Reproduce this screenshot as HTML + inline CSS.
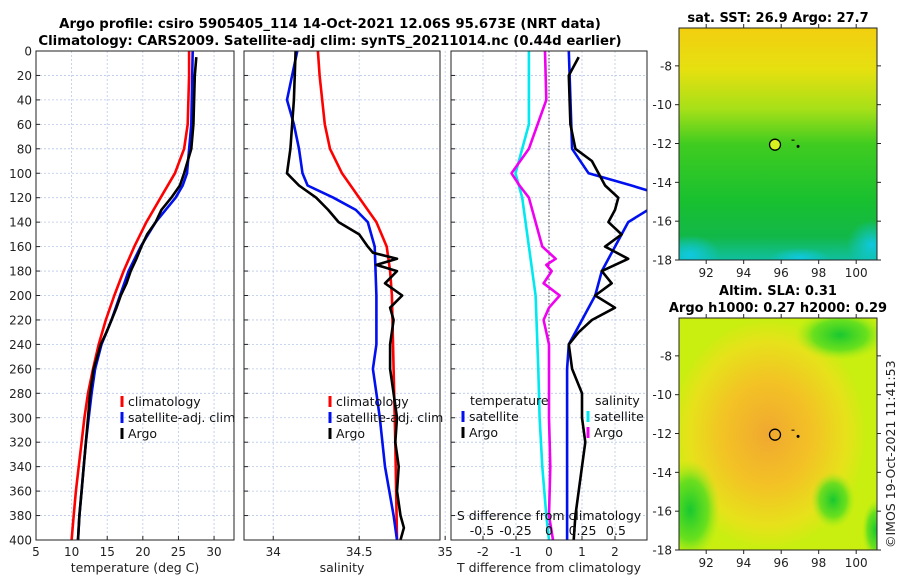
<!DOCTYPE html>
<html><head><meta charset="utf-8">
<style>
html,body{margin:0;padding:0;background:#fff;}
svg{display:block;font-family:"DejaVu Sans","Liberation Sans",sans-serif;}
</style></head>
<body>
<svg id="fig" width="900" height="580" viewBox="0 0 900 580">
<defs>
<linearGradient id="sstg" x1="0" y1="0" x2="0" y2="1">
<stop offset="0" stop-color="#f2cf10"/><stop offset="0.18" stop-color="#e6e010"/>
<stop offset="0.35" stop-color="#a6e018"/><stop offset="0.5" stop-color="#40cc20"/>
<stop offset="0.75" stop-color="#18c030"/><stop offset="0.9" stop-color="#12b848"/>
<stop offset="1" stop-color="#10c0a0"/></linearGradient>
<radialGradient id="slag" cx="0.45" cy="0.5" r="0.5">
<stop offset="0" stop-color="#f0a830"/><stop offset="0.45" stop-color="#f3c225"/>
<stop offset="0.8" stop-color="#e6e21a"/><stop offset="1" stop-color="#c8ef10"/></radialGradient>
<radialGradient id="grn" cx="0.5" cy="0.5" r="0.5">
<stop offset="0" stop-color="#18c830"/><stop offset="0.6" stop-color="#50dc20" stop-opacity="0.8"/><stop offset="1" stop-color="#a0e818" stop-opacity="0"/></radialGradient>
<radialGradient id="cyn" cx="0.5" cy="0.5" r="0.5">
<stop offset="0" stop-color="#10c8e0"/><stop offset="1" stop-color="#10c8e0" stop-opacity="0"/></radialGradient>
<clipPath id="clipm1"><rect x="679" y="28" width="198" height="232"/></clipPath>
<clipPath id="clipm2"><rect x="679" y="318" width="198" height="232"/></clipPath>
</defs>
<text x="330" y="28" text-anchor="middle" font-size="13.3" font-weight="bold">Argo profile: csiro 5905405_114 14-Oct-2021 12.06S 95.673E (NRT data)</text>
<text x="330" y="45" text-anchor="middle" font-size="13.3" font-weight="bold">Climatology: CARS2009. Satellite-adj clim: synTS_20211014.nc (0.44d earlier)</text>
<g id="p1"></g>
<g id="p2"></g>
<g id="p3"></g>
<g id="m1">
<g clip-path="url(#clipm1)">
<rect x="679" y="28" width="198" height="232" fill="url(#sstg)"/>
<ellipse cx="690" cy="255" rx="30" ry="20" fill="url(#cyn)"/>
<ellipse cx="800" cy="258" rx="30" ry="10" fill="url(#cyn)"/>
<ellipse cx="872" cy="245" rx="25" ry="25" fill="url(#cyn)"/>
</g></g>
<g id="m2">
<g clip-path="url(#clipm2)">
<rect x="679" y="318" width="198" height="232" fill="url(#slag)"/>
<ellipse cx="690" cy="510" rx="30" ry="50" fill="url(#grn)"/>
<ellipse cx="840" cy="335" rx="45" ry="25" fill="url(#grn)"/>
<ellipse cx="833" cy="500" rx="22" ry="28" fill="url(#grn)"/>
<ellipse cx="876" cy="530" rx="14" ry="30" fill="url(#grn)"/>
</g></g>
<text x="778" y="22" text-anchor="middle" font-size="13" font-weight="bold">sat. SST: 26.9 Argo: 27.7</text>
<text x="778" y="295" text-anchor="middle" font-size="13" font-weight="bold">Altim. SLA: 0.31</text>
<text x="778" y="312" text-anchor="middle" font-size="13" font-weight="bold">Argo h1000: 0.27 h2000: 0.29</text>
<text transform="translate(895,548) rotate(-90)" font-size="12.5" fill="#222">©IMOS 19-Oct-2021 11:41:53</text>
</svg>
<script>
// ---- data ----
const tClimDepth=[0,20,60,80,100,120,140,160,180,200,220,240,260,280,300,320,340,360,380,400];
const tClimVal=[26.5,26.5,26.3,25.8,24.5,22.5,20.5,18.8,17.3,16,14.8,13.8,13,12.3,11.8,11.4,11,10.6,10.3,10];
const tSatDepth=[0,60,100,110,120,130,140,160,180,200,220,240,260,280,300,320,340,360,380,400];
const tSatVal=[27,26.8,26.2,25.6,24.6,23.2,21.8,19.7,18,16.8,15.6,14.2,13.3,12.8,12.4,12,11.7,11.4,11.1,10.9];
const tArgoDepth=[5,20,60,80,100,110,120,130,140,150,160,170,180,190,200,210,220,230,240,260,280,300,320,340,360,380,400];
const tArgoVal=[27.5,27.3,27.1,26.8,25.8,25.2,24,22.6,21.8,20.6,19.8,19.1,18.3,17.7,16.9,16.3,15.6,14.9,14.1,13.1,12.6,12.3,12,11.7,11.4,11.1,10.9];
const sClimDepth=[0,20,60,80,100,120,140,160,180,200,260,320,400];
const sClimVal=[34.26,34.27,34.3,34.33,34.4,34.5,34.6,34.66,34.68,34.69,34.7,34.71,34.72];
const sSatDepth=[0,20,40,60,80,100,110,120,130,140,160,200,240,260,280,300,340,380,400];
const sSatVal=[34.14,34.11,34.08,34.12,34.15,34.17,34.2,34.35,34.48,34.55,34.59,34.6,34.6,34.58,34.6,34.62,34.65,34.7,34.72];
const sArgoDepth=[0,40,80,100,110,120,130,140,150,160,165,170,175,180,190,200,210,220,240,260,280,300,320,340,360,380,390,400];
const sArgoVal=[34.13,34.12,34.1,34.08,34.15,34.25,34.32,34.38,34.5,34.55,34.58,34.72,34.6,34.72,34.65,34.75,34.68,34.7,34.68,34.68,34.7,34.72,34.71,34.73,34.72,34.74,34.76,34.74];
const dTSatDepth=[0,80,100,110,115,130,140,160,180,200,220,240,260,300,400];
const dTSatVal=[0.6,0.7,1.2,2.5,3.1,3.0,2.4,2.0,1.6,1.4,1.0,0.6,0.55,0.55,0.55];
const dTArgoDepth=[5,20,60,80,90,100,110,120,130,140,150,160,170,180,190,200,210,220,230,240,260,280,300,320,340,360,380,400];
const dTArgoVal=[0.9,0.6,0.65,0.8,1.3,1.5,1.7,2.1,2.0,1.8,2.2,1.7,2.4,1.6,1.9,1.4,2.0,1.3,0.9,0.6,0.7,1.0,1.0,1.1,1.0,0.9,0.8,0.75];
const dSSatDepth=[0,60,100,120,160,200,260,300,340,380,400];
const dSSatVal=[-0.15,-0.15,-0.25,-0.2,-0.15,-0.1,-0.08,-0.07,-0.05,-0.02,0];
const dSArgoDepth=[0,40,80,100,110,120,140,160,170,175,180,190,200,210,220,240,260,300,340,380,400];
const dSArgoVal=[-0.03,-0.02,-0.15,-0.28,-0.22,-0.15,-0.1,-0.05,0.05,-0.02,0.02,-0.04,0.08,0.0,-0.04,0.0,0.0,0.0,0.01,0.0,0.03];
const depthTicks=[0,20,40,60,80,100,120,140,160,180,200,220,240,260,280,300,320,340,360,380,400];
const tTicks=[5,10,15,20,25,30];
const sTicks=[34,34.5,35];
const dTTicks=[-2,-1,0,1,2];
const dSTicks=[-0.5,-0.25,0,0.25,0.5];
const lonTicks=[92,94,96,98,100];
const latTicks=[-8,-10,-12,-14,-16,-18];

const NS='http://www.w3.org/2000/svg';
function mk(tag,attrs,parent,txt){const e=document.createElementNS(NS,tag);for(const k in attrs)e.setAttribute(k,attrs[k]);if(txt!==undefined)e.textContent=txt;parent.appendChild(e);return e;}
const Y0=51,Y1=540;
const yD=d=>Y0+(d/400)*(Y1-Y0);

function panel(g,x0,x1,xmin,xmax,ticks,showY,xlabel,fmt){
  const xs=v=>x0+(v-xmin)/(xmax-xmin)*(x1-x0);
  ticks.forEach(t=>{
    const gl=mk('line',{x1:xs(t),x2:xs(t),y1:Y0,y2:Y1,stroke:'#b8c8e8','stroke-width':0.8,'stroke-dasharray':'2,2'},g);
    
    const tl=mk('text',{x:xs(t),y:556,'text-anchor':'middle','font-size':12,fill:'#222'},g,fmt?fmt(t):String(t));
    
    mk('line',{x1:xs(t),x2:xs(t),y1:Y1,y2:Y1-4,stroke:'#222'},g);
  });
  depthTicks.forEach(d=>{
    const gl=mk('line',{x1:x0,x2:x1,y1:yD(d),y2:yD(d),stroke:'#b8c8e8','stroke-width':0.8,'stroke-dasharray':'2,2'},g);
    
    mk('line',{x1:x0,x2:x0+4,y1:yD(d),y2:yD(d),stroke:'#222'},g);
    if(showY){const tl=mk('text',{x:x0-4,y:yD(d)+4.5,'text-anchor':'end','font-size':12,fill:'#222'},g,String(d));
      }
  });
  if(xlabel){const xl=mk('text',{x:(x0+x1)/2,y:572,'text-anchor':'middle','font-size':12.5,fill:'#222'},g,xlabel);
    }
  return xs;
}
function frame(g,x0,x1){const f=mk('rect',{x:x0,y:Y0,width:x1-x0,height:Y1-Y0,fill:'none',stroke:'#222','stroke-width':1},g);
  }
function line(g,xs,depths,vals,color,name,x0,x1){
  const cid='c'+name;const cp=mk('clipPath',{id:cid},g);mk('rect',{x:x0,y:Y0,width:x1-x0,height:Y1-Y0},cp);
  const p=mk('polyline',{points:depths.map((d,i)=>xs(vals[i]).toFixed(1)+','+yD(d).toFixed(1)).join(' '),fill:'none',stroke:color,'stroke-width':2.6,'stroke-linejoin':'round','clip-path':'url(#'+cid+')'},g);
  
}
function legend(g,x,y,items){items.forEach((it,i)=>{
  const yy=y+i*16;mk('line',{x1:x,x2:x,y1:yy-10,y2:yy+1,stroke:it[1],'stroke-width':3},g);
  const t=mk('text',{x:x+6,y:yy,'font-size':12.5,fill:'#111'},g,it[0]);
  });}

// panel 1
const g1=document.getElementById('p1');
const xt=panel(g1,36,234,5,32.8,tTicks,true,'temperature (deg C)');
line(g1,xt,tClimDepth,tClimVal,'#f00','temp-climatology-line',36,234);
line(g1,xt,tSatDepth,tSatVal,'#0010ee','temp-satellite-line',36,234);
line(g1,xt,tArgoDepth,tArgoVal,'#000','temp-argo-line',36,234);
legend(g1,122,406,[['climatology','#f00'],['satellite-adj. clim','#0010ee'],['Argo','#000']]);
frame(g1,36,234);
// panel 2
const g2=document.getElementById('p2');
const xsl=panel(g2,244,440,33.83,34.97,sTicks,false,'salinity');
line(g2,xsl,sClimDepth,sClimVal,'#f00','sal-climatology-line',244,440);
line(g2,xsl,sSatDepth,sSatVal,'#0010ee','sal-satellite-line',244,440);
line(g2,xsl,sArgoDepth,sArgoVal,'#000','sal-argo-line',244,440);
legend(g2,330,406,[['climatology','#f00'],['satellite-adj. clim','#0010ee'],['Argo','#000']]);
frame(g2,244,440);
// panel 3
const g3=document.getElementById('p3');
const xd=panel(g3,451,647,-2.97,2.97,dTTicks,false,'T difference from climatology');
const xsd=v=>549+v*134;
const zl=mk('line',{x1:xd(0),x2:xd(0),y1:Y0,y2:Y1,stroke:'#444','stroke-width':1,'stroke-dasharray':'1.5,2'},g3);

line(g3,x=>xsd(x),dSSatDepth,dSSatVal,'#00e8f0','dsal-satellite-line',451,647);
line(g3,x=>xsd(x),dSArgoDepth,dSArgoVal,'#f000f0','dsal-argo-line',451,647);
line(g3,xd,dTSatDepth,dTSatVal,'#0010ee','dtemp-satellite-line',451,647);
line(g3,xd,dTArgoDepth,dTArgoVal,'#000','dtemp-argo-line',451,647);
let lt=mk('text',{x:470,y:405,'font-size':12.5,fill:'#111'},g3,'temperature');
lt=mk('text',{x:595,y:405,'font-size':12.5,fill:'#111'},g3,'salinity');
legend(g3,463,421,[['satellite','#0010ee'],['Argo','#000']]);
legend(g3,588,421,[['satellite','#00e8f0'],['Argo','#f000f0']]);
lt=mk('text',{x:549,y:520,'text-anchor':'middle','font-size':12.5,fill:'#111'},g3,'S difference from climatology');
dSTicks.forEach(t=>{const e=mk('text',{x:xsd(t),y:535,'text-anchor':'middle','font-size':12.5,fill:'#111'},g3,String(t));
  });
frame(g3,451,647);

// maps
function mapAxes(g,top,bot,latTop,latBot){
  const mx=lon=>679+(lon-90.55)*18.75;
  const my=lat=>top+(latTop-lat)/(latTop-latBot)*(bot-top);
  lonTicks.forEach(l=>{mk('line',{x1:mx(l),x2:mx(l),y1:bot,y2:bot+4,stroke:'#222'},g);mk('line',{x1:mx(l),x2:mx(l),y1:top,y2:top-4,stroke:'#222'},g);
    const t=mk('text',{x:mx(l),y:bot+17,'text-anchor':'middle','font-size':12,fill:'#222'},g,String(l));
    });
  latTicks.forEach(l=>{const y=my(l);mk('line',{x1:679,x2:675,y1:y,y2:y,stroke:'#222'},g);mk('line',{x1:877,x2:881,y1:y,y2:y,stroke:'#222'},g);
    const t=mk('text',{x:672,y:y+4.5,'text-anchor':'end','font-size':12,fill:'#222'},g,String(l));
    });
  mk('rect',{x:679,y:top,width:198,height:bot-top,fill:'none',stroke:'#222'},g);
  return [mx,my];
}
const m1=document.getElementById('m1');
let [mx1,my1]=mapAxes(m1,28,260,-6.05,-18);
let c=mk('circle',{cx:mx1(95.67),cy:my1(-12.06),r:5.5,fill:'#d8f020',stroke:'#000','stroke-width':1.3},m1);
mk('circle',{cx:mx1(96.9),cy:my1(-12.15),r:1.5,fill:'#000'},m1);mk('rect',{x:mx1(96.55),y:my1(-11.8),width:3,height:1,fill:'#000'},m1);
const m2=document.getElementById('m2');
let [mx2,my2]=mapAxes(m2,318,550,-6.05,-18);
c=mk('circle',{cx:mx2(95.67),cy:my2(-12.06),r:5.5,fill:'none',stroke:'#000','stroke-width':1.3},m2);
mk('circle',{cx:mx2(96.9),cy:my2(-12.15),r:1.5,fill:'#000'},m2);mk('rect',{x:mx2(96.55),y:my2(-11.8),width:3,height:1,fill:'#000'},m2);
</script>
</body></html>
